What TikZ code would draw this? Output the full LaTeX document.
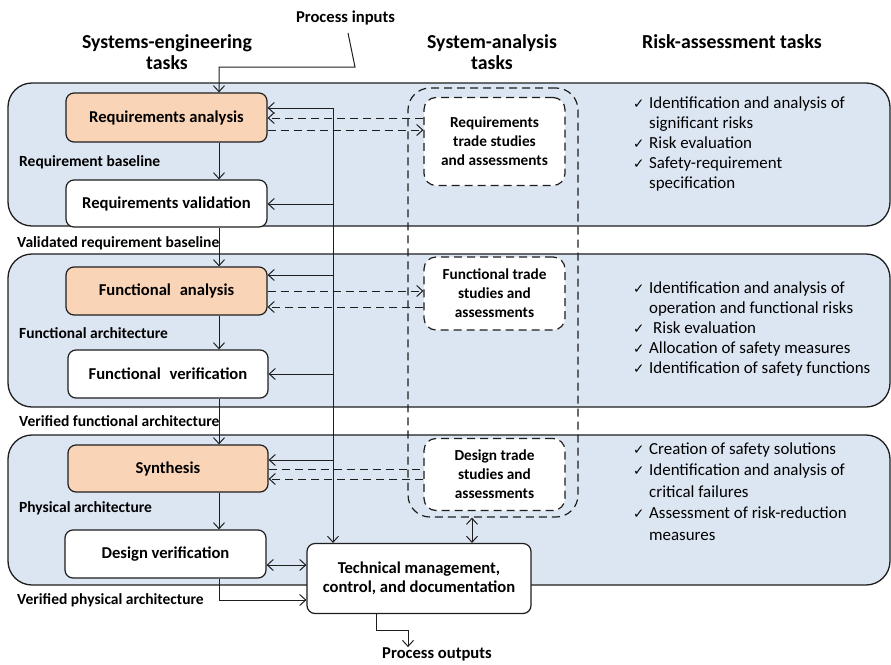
\documentclass[tikz,border=0pt]{standalone}
\usepackage{fontspec}
\setmainfont{Carlito}
\newfontfamily\dejavu{DejaVu Sans}
\usetikzlibrary{arrows.meta,calc}
\definecolor{bandc}{RGB}{220,230,242}
\definecolor{peach}{RGB}{250,212,182}
\definecolor{ink}{RGB}{30,30,30}
\newcommand\boxfont{\fontsize{16.6}{19}\selectfont\bfseries}
\newcommand\tradefont{\fontsize{15.3}{19}\selectfont\bfseries}
\newcommand\labfont{\fontsize{15.5}{17}\selectfont\bfseries}
\newcommand\headfont{\fontsize{19.8}{20.5}\selectfont\bfseries}
\newcommand\riskfont{\fontsize{16.9}{20}\selectfont}
\newcommand\riskfontb{\fontsize{16.9}{21.5}\selectfont}
\newcommand\ck{{\dejavu\fontsize{13.5}{12}\selectfont ✓}}
\begin{document}
\begin{tikzpicture}[x=1pt,y=-1pt,
  bandst/.style={draw=ink,line width=1.3pt,fill=bandc,rounded corners=24pt},
  sebox/.style={draw=ink,line width=1.2pt,rounded corners=8pt,fill=white,inner sep=0pt,align=center,font=\boxfont},
  pbox/.style={sebox,fill=peach},
  tbox/.style={draw=ink,line width=1.2pt,dash pattern=on 8pt off 5pt,rounded corners=12pt,fill=white,inner sep=0pt,align=center,font=\tradefont},
  arr/.style={draw=ink,line width=1pt,-{Straight Barb[length=6pt,width=11pt]}},
  darr/.style={arr,dash pattern=on 8pt off 5pt},
  dline/.style={draw=ink,line width=1pt,dash pattern=on 8pt off 5pt},
  barr/.style={draw=ink,line width=1pt,{Straight Barb[length=6pt,width=11pt]}-{Straight Barb[length=6pt,width=11pt]}},
  lab/.style={anchor=west,inner sep=0pt,font=\labfont},
  risk/.style={anchor=base west,inner sep=0pt,font=\riskfont}]
\useasboundingbox (0,0) rectangle (891,664);
\fill[white] (0,0) rectangle (891,664);

% bands
\draw[bandst] (8,83) rectangle (890,226);
\draw[bandst] (8,254) rectangle (890,407);
\draw[bandst] (8,435) rectangle (890,585);

% headers
\node[align=center,font=\headfont] (h1) at (167,52) {Systems-engineering\\tasks};
\node[align=center,font=\headfont] (h2) at (492,52) {System-analysis\\tasks};
\node[font=\headfont] (h3) at (732,42) {Risk-assessment tasks};
\node[font=\boxfont,inner sep=0pt] (pin) at (345.5,18) {Process inputs};

% outer dashed enclosure
\node[draw=ink,line width=1.2pt,dash pattern=on 8pt off 5pt,rounded corners=22pt,minimum width=170pt,minimum height=429pt,inner sep=0pt] (outer) at (493,302.5) {};

% trade study boxes
\node[tbox,minimum width=141pt,minimum height=88pt] (rt) at (494.5,141.5) {Requirements\\trade studies\\and assessments};
\node[tbox,minimum width=141pt,minimum height=73pt] (ft) at (494.5,293.5) {Functional trade\\studies and\\assessments};
\node[tbox,minimum width=141pt,minimum height=72pt] (dt) at (494.5,474.5) {Design trade\\studies and\\assessments};

% systems-engineering boxes
\node[pbox,minimum width=201pt,minimum height=49pt] (ra) at (166.5,117.5) {Requirements analysis};
\node[sebox,minimum width=201pt,minimum height=47pt] (rv) at (166.5,203.5) {Requirements validation};
\node[pbox,minimum width=201pt,minimum height=48pt] (fa) at (166.5,291) {Functional\hspace{0.3em} analysis};
\node[sebox,minimum width=200pt,minimum height=48pt] (fv) at (168,374) {Functional\hspace{0.3em} verification};
\node[pbox,minimum width=200pt,minimum height=47pt] (sy) at (168,468.5) {Synthesis};
\node[sebox,minimum width=201pt,minimum height=48pt] (dv) at (165.5,554) {Design verification};
\node[sebox,minimum width=224pt,minimum height=70pt] (tm) at (419,578.5) {Technical management,\\control, and documentation};
\node[font=\boxfont,inner sep=0pt] (pout) at (437,654) {Process outputs};

% left labels
\node[lab] (l1) at (19,162) {Requirement baseline};
\node[lab] (l2) at (17,243) {Validated requirement baseline};
\node[lab] (l3) at (19,333) {Functional architecture};
\node[lab] (l4) at (19,421) {Verified functional architecture};
\node[lab] (l5) at (19,508) {Physical architecture};
\node[lab] (l6) at (17,600) {Verified physical architecture};

% risk lists
\node[risk] (r1) at (633,108) {\begin{tabular}[t]{@{}p{16pt}@{}l@{}}\ck & Identification and analysis of\\ & significant risks\\ \ck & Risk evaluation\\ \ck & Safety-requirement\\ & specification\end{tabular}};
\node[risk] (r2) at (633,293) {\begin{tabular}[t]{@{}p{16pt}@{}l@{}}\ck & Identification and analysis of\\ & operation and functional risks\\ \ck & \hspace{4pt}Risk evaluation\\ \ck & Allocation of safety measures\\ \ck & Identification of safety functions\end{tabular}};
\node[risk,font=\riskfontb] (r3) at (633,454) {\begin{tabular}[t]{@{}p{16pt}@{}l@{}}\ck & Creation of safety solutions\\ \ck & Identification and analysis of\\ & critical failures\\ \ck & Assessment of risk-reduction\\ & measures\end{tabular}};

% helper coordinates
\coordinate (xm) at (219,0);
\coordinate (xs) at (333,0);
\coordinate (spT) at (333,108);
\coordinate (inA) at (348,33);
\coordinate (inB) at (355,67);
\coordinate (y118) at (0,118);
\coordinate (y130) at (0,130);
\coordinate (y204) at (0,204);
\coordinate (y275) at (0,275);
\coordinate (y307) at (0,307);
\coordinate (y460) at (0,460);
\coordinate (y479) at (0,479);
\coordinate (y469) at (0,469);
\coordinate (y565) at (0,565);
\coordinate (y600) at (0,600);
\coordinate (x472) at (472,0);
\coordinate (x376) at (376,0);
\coordinate (po1) at (408,630);

% process input
\draw[arr] (inA) -- (inB) -- (inB -| xm) -- (ra.north -| xm);

% main flow
\draw[arr] (ra.south -| xm) -- (rv.north -| xm);
\draw[arr] (rv.south -| xm) -- (fa.north -| xm);
\draw[arr] (fa.south -| xm) -- (fv.north -| xm);
\draw[arr] (fv.south -| xm) -- (sy.north -| xm);
\draw[arr] (sy.south -| xm) -- (dv.north -| xm);
\draw[arr] (dv.south -| xm) |- (tm.west |- y600);
\draw[barr] (dv.east |- y565) -- (tm.west |- y565);
\draw[arr] (tm.south -| x376) |- (po1) -- (pout.north -| po1);
\draw[barr] (outer.south -| x472) -- (tm.north -| x472);

% dashed trade links
\draw[darr] (rt.west |- y118) -- (ra.east |- y118);
\draw[darr] (ra.east |- y130) -- (rt.west |- y130);
\draw[darr] (fa.east) -- (ft.west |- fa.east);
\draw[darr] (ft.west |- y307) -- (fa.east |- y307);
\draw[dline] (sy.east |- y469) -- (dt.west |- y469);
\draw[darr] (dt.west |- y479) -- (sy.east |- y479);

% management spine
\draw[arr] (spT) -- (tm.north -| xs);
\draw[arr] (spT) -- (ra.east |- spT);
\draw[arr] (xs |- y204) -- (rv.east |- y204);
\draw[arr] (xs |- y275) -- (fa.east |- y275);
\draw[arr] (xs |- fv.east) -- (fv.east);
\draw[arr] (xs |- y460) -- (sy.east |- y460);
\end{tikzpicture}
\end{document}
